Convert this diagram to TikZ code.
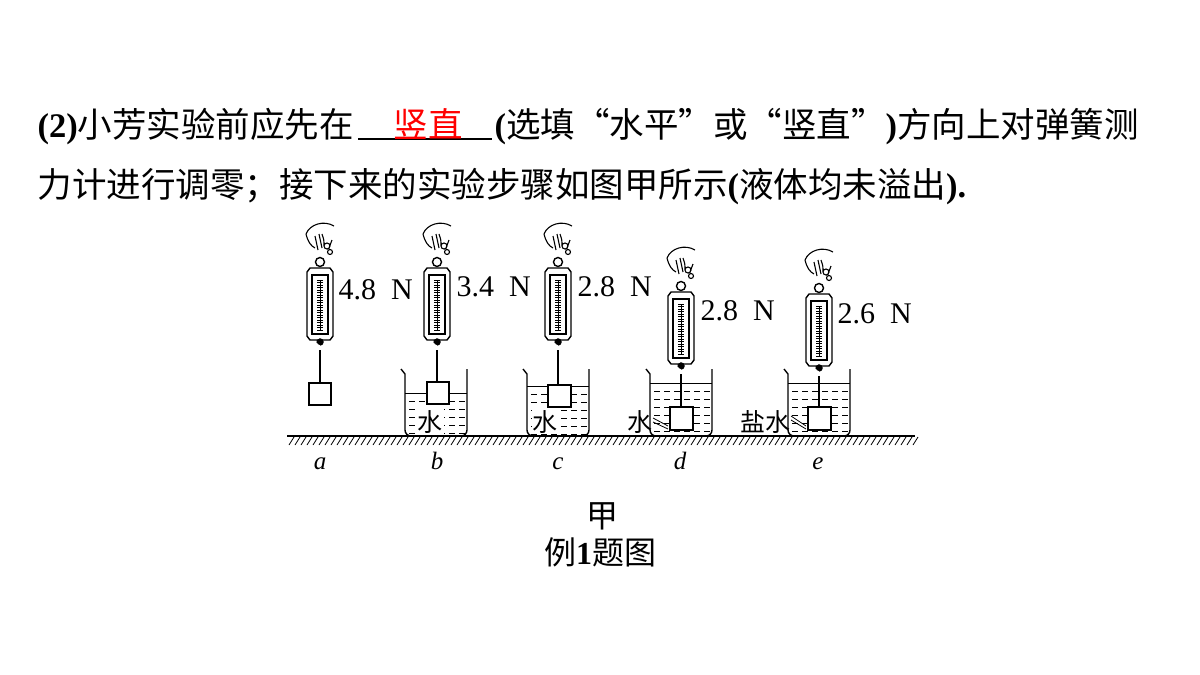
\documentclass[tikz,border=0pt]{standalone}
\usepackage{fontspec}
\setmainfont{Liberation Serif}
\newfontfamily\cjk{Noto Sans CJK SC}
\begin{document}
\begin{tikzpicture}[x=1pt,y=-1pt,line width=1.4pt,
  txt/.style={inner sep=0,anchor=base west,font=\fontsize{34.5}{36}\selectfont},
  lab/.style={inner sep=0,anchor=base west,font=\fontsize{30}{32}\selectfont},
  let/.style={inner sep=0,anchor=base,font=\fontsize{25}{26}\selectfont\itshape},
  liq/.style={inner sep=0,anchor=base,font=\fontsize{25}{26}\selectfont\cjk}]
\useasboundingbox (0,0) rectangle (1200,675);
\newcommand\mymeter[2]{%
 \begin{scope}[shift={(#1,#2)}]
  \draw[line width=1.1pt] (-14,-38) .. controls (-10,-48) and (4,-52) .. (14,-46)
   (-14,-38) .. controls (-12,-30) and (-9,-26) .. (-5,-24)
   (-5,-36) -- (-2,-22) (-1,-38) -- (2,-24) (2,-38) .. controls (4,-32) .. (4,-26)
   (7,-26) circle (3) (10,-20) circle (2.5) (12,-32) .. controls (10,-28) .. (9,-24);
  \draw (0,-10) circle (4.5);
  \draw (-13,0) -- (-10,-4) -- (10,-4) -- (13,0) -- (13,64) -- (10,68) -- (-10,68) -- (-13,64) -- cycle;
  \draw[line width=1.1pt] (-8,3) rectangle (8,62);
  \draw[line width=0.8pt] (0,8) -- (0,58);
  \foreach \t in {8,10.5,...,58} \draw[line width=0.5pt] (-3,\t) -- (3,\t);
  \fill (0,70) circle (3);
  \draw (0,73) arc (90:-200:3);
 \end{scope}}
\newcommand\mybeaker[3]{%
 \begin{scope}[shift={(#1,0)}]
  \draw (-4,369) -- (0,374) -- (0,430) to[out=-90,in=180] (6,436) -- (56,436) to[out=0,in=-90] (62,430) -- (62,369);
  \draw[line width=0.9pt] (0,#2) -- (62,#2);
  \foreach \yy in {#3,...,434} \foreach \xx in {4,14,...,54} \draw[line width=0.9pt] (\xx,\yy) -- (\xx+6,\yy);
 \end{scope}}
% text
\node[txt] (t1) at (37,137) {\textbf{(2)}{\cjk 小芳实验前应先在}};
\draw[line width=1.3pt] (358,139) -- (492,139);
\node[txt,text=red] (ans) at (393,137) {\cjk 竖直};
\node[txt] (t2) at (494,137) {\textbf{(}{\cjk 选填“水平”或“竖直”}\textbf{)}{\cjk 方向上对弹簧测}};
\node[txt] (t3) at (37,197) {{\cjk 力计进行调零；接下来的实验步骤如图甲所示}\textbf{(}{\cjk 液体均未溢出}\textbf{).}};
% ground
\draw (287,436) -- (915,436);
\foreach \x in {289,295,...,913} \draw[line width=0.8pt] (\x,445) -- (\x+5,437);
% beakers
\mybeaker{405}{393}{401,409}
\mybeaker{527}{386}{394,402}
\mybeaker{650}{383}{391,399}
\mybeaker{788}{383}{391,399}
% meters
\mymeter{320}{272}\node[lab] at (338,299) {4.8\,\,\,N};
\mymeter{437}{272}\node[lab] at (456,296) {3.4\,\,\,N};
\mymeter{558}{272}\node[lab] at (577,296) {2.8\,\,\,N};
\mymeter{681}{296}\node[lab] at (700,320) {2.8\,\,\,N};
\mymeter{819}{298}\node[lab] at (837,323) {2.6\,\,\,N};
% strings and blocks
\draw (320,350) -- (320,383); \draw[fill=white] (309,383) rectangle (331,405);
\draw (437,350) -- (437,382); \draw[fill=white] (427,382) rectangle (449,404);
\draw (558,350) -- (558,385); \draw[fill=white] (548,385) rectangle (571,407);
\draw (681,374) -- (681,407); \draw[fill=white] (670,407) rectangle (693,430);
\draw (819,376) -- (819,407); \draw[fill=white] (808,407) rectangle (831,430);
% liquid labels
\node[liq,fill=white,inner sep=1pt] at (430,431) {水};
\node[liq,fill=white,inner sep=1pt] at (545,431) {水};
\node[liq] (w4) at (640,431) {水};
\draw[line width=0.8pt] (653,418) -- (668,426) (653,422) -- (668,429);
\node[liq] (w5) at (765,431) {盐水};
\draw[line width=0.8pt] (791,416) -- (806,426) (791,420) -- (806,429);
% letters
\node[let] at (320,469) {a};
\node[let] at (437,469) {b};
\node[let] at (558,469) {c};
\node[let] at (680,469) {d};
\node[let] at (818,469) {e};
\node[inner sep=0,anchor=base,font=\fontsize{32}{34}\selectfont\cjk] (jia) at (602,527) {甲};
\node[inner sep=0,anchor=base,font=\fontsize{32}{34}\selectfont] (cap) at (600,564) {{\cjk 例}\textbf{1}{\cjk 题图}};
\end{tikzpicture}
\end{document}
